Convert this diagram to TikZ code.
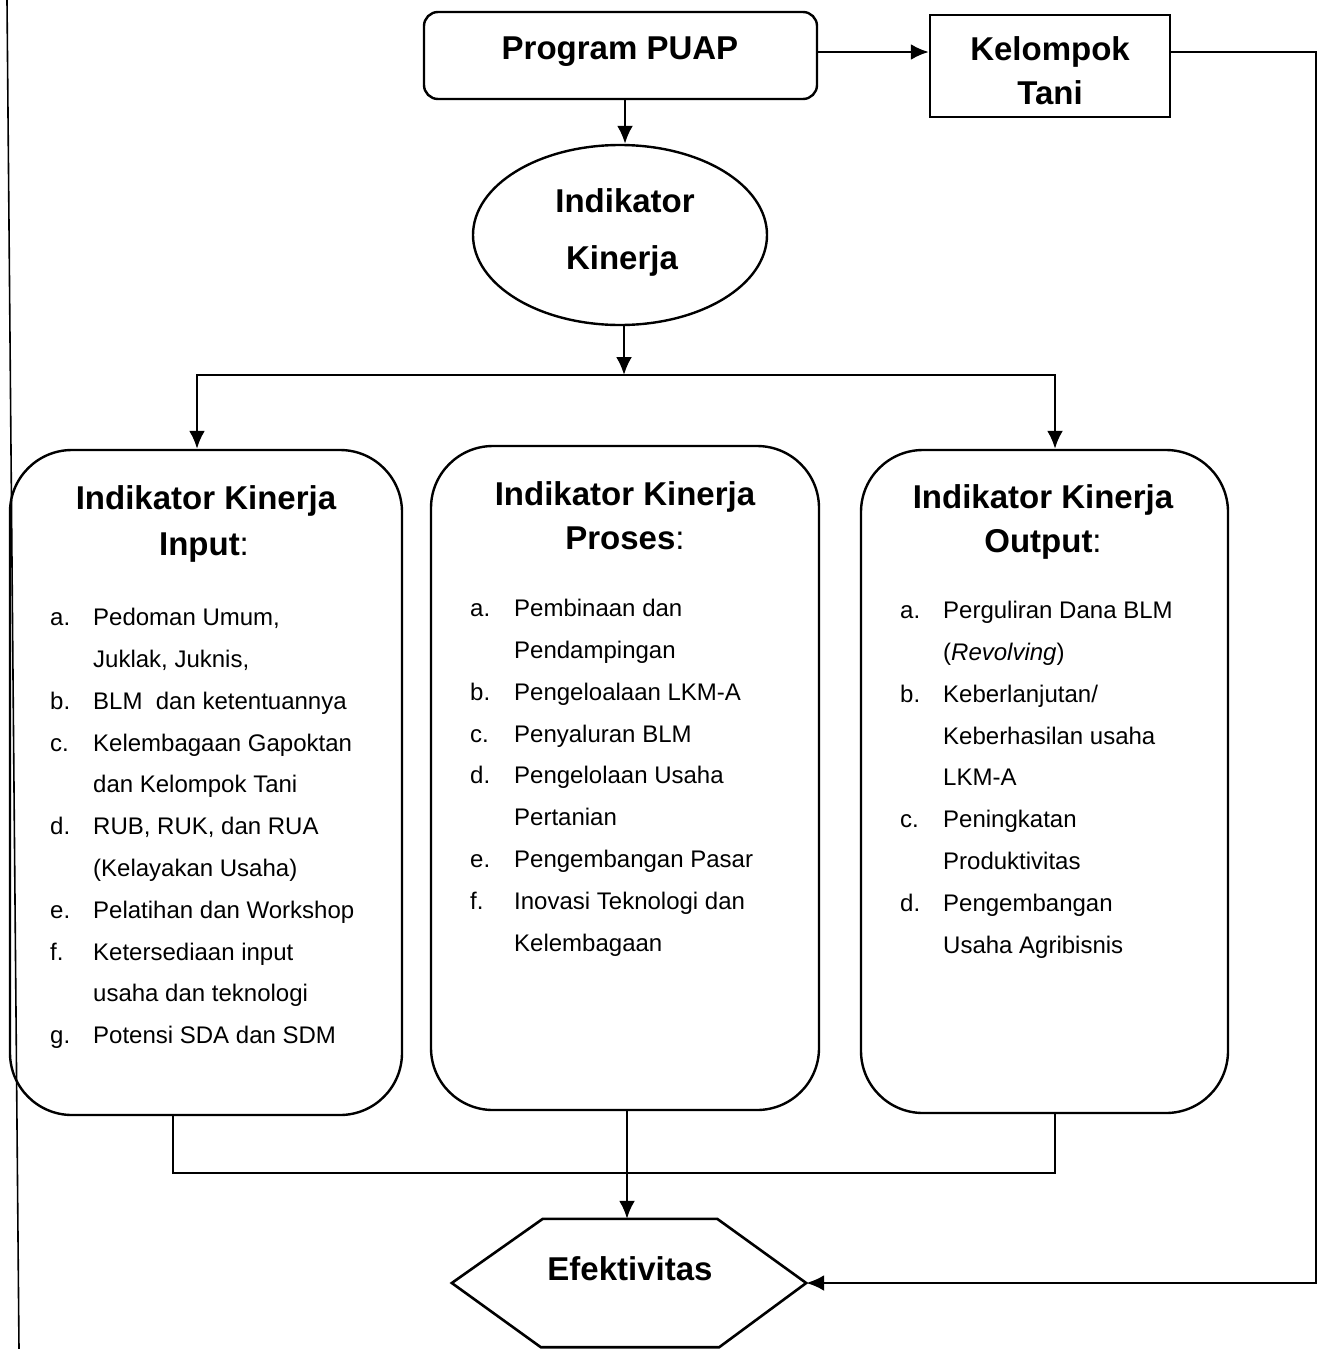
\documentclass[tikz,border=0pt]{standalone}
\usepackage{fontspec}
\setmainfont{Liberation Sans}
\usetikzlibrary{arrows.meta,shapes.geometric,calc}
\tikzset{
  box/.style={draw, line width=2.4pt, inner sep=0},
  bigbox/.style={box, rounded corners=62pt},
  ttl/.style={font=\fontsize{33}{40}\selectfont\bfseries, inner sep=0, anchor=base},
  lst/.style={font=\fontsize{24}{41.8}\selectfont, inner sep=0, anchor=north west, align=left},
  arr/.style={line width=2.6pt, -{Latex[length=18pt,width=16pt]}},
  ln/.style={line width=2.6pt}
}
\begin{document}
\begin{tikzpicture}[x=1pt,y=-1pt]
\useasboundingbox (0,0) rectangle (1325,1349);
% page edge line
\draw[line width=1.6pt] (7,0) -- (19,1349);

% top boxes
\node[box, rounded corners=14pt, minimum width=393pt, minimum height=87pt] (puap) at (620.5,55.5) {};
\node[ttl] (puapt) at (620,59) {Program PUAP};
\node[box, minimum width=240pt, minimum height=102pt] (kt) at (1050,66) {};
\node[ttl] (kt1) at (1050,60) {Kelompok};
\node[ttl] (kt2) at (1050,104) {Tani};

% ellipse
\node[draw, ellipse, line width=2.4pt, minimum width=294pt, minimum height=180pt, inner sep=0] (ik) at (620,235) {};
\node[ttl] (ik1) at (625,212) {Indikator};
\node[ttl] (ik2) at (622,269) {Kinerja};

% three big boxes
\node[bigbox, minimum width=392pt, minimum height=665pt] (input) at (206,782.5) {};
\node[bigbox, minimum width=388pt, minimum height=664pt] (proses) at (625,778) {};
\node[bigbox, minimum width=367pt, minimum height=663pt] (output) at (1044.5,781.5) {};

\node[ttl] (in1) at (206,509) {Indikator Kinerja};
\node[ttl] (in2) at (204,555) {Input{\mdseries:}};
\node[ttl] (pr1) at (625,505) {Indikator Kinerja};
\node[ttl] (pr2) at (625,549) {Proses{\mdseries:}};
\node[ttl] (ou1) at (1043,508) {Indikator Kinerja};
\node[ttl] (ou2) at (1043,552) {Output{\mdseries:}};

\node[lst] (inlist) at (50,596.3) {\begin{tabular}{@{}p{43pt}@{}l@{}}
a. & Pedoman Umum,\\
   & Juklak, Juknis,\\
b. & BLM\ \ dan ketentuannya\\
c. & Kelembagaan Gapoktan\\
   & dan Kelompok Tani\\
d. & RUB, RUK, dan RUA\\
   & (Kelayakan Usaha)\\
e. & Pelatihan dan Workshop\\
f. & Ketersediaan input\\
   & usaha dan teknologi\\
g. & Potensi SDA dan SDM
\end{tabular}};

\node[lst] (prlist) at (470,587.3) {\begin{tabular}{@{}p{44pt}@{}l@{}}
a. & Pembinaan dan\\
   & Pendampingan\\
b. & Pengeloalaan LKM-A\\
c. & Penyaluran BLM\\
d. & Pengelolaan Usaha\\
   & Pertanian\\
e. & Pengembangan Pasar\\
f. & Inovasi Teknologi dan\\
   & Kelembagaan
\end{tabular}};

\node[lst] (oulist) at (900,589.3) {\begin{tabular}{@{}p{43pt}@{}l@{}}
a. & Perguliran Dana BLM\\
   & (\textit{Revolving})\\
b. & Keberlanjutan/\\
   & Keberhasilan usaha\\
   & LKM-A\\
c. & Peningkatan\\
   & Produktivitas\\
d. & Pengembangan\\
   & Usaha Agribisnis
\end{tabular}};

% hexagon
\node[minimum width=354pt, minimum height=128pt, inner sep=0] (efek) at (629,1283) {};
\draw[ln, line join=miter] (efek.west) -- ([xshift=91pt]efek.north west) -- ([xshift=-89pt]efek.north east)
  -- (efek.east) -- ([xshift=-87pt]efek.south east) -- ([xshift=89pt]efek.south west) -- cycle;
\node[ttl] (efekt) at (630,1280) {Efektivitas};

% connectors
\coordinate (split) at (624,375);
\coordinate (join) at (627,1173);
\coordinate (fb) at (1316,52);
\draw[arr] ([yshift=3.5pt]puap.east) -- ([yshift=14pt]kt.west);
\draw[arr] ([xshift=4.5pt]puap.south) -- ([xshift=4.5pt]puap.south |- ik.north);
\draw[arr] ([xshift=4pt]ik.south) -- (split);
\draw[arr] (split) -| ([xshift=-9pt]input.north);
\draw[arr] (split) -| ([xshift=10.5pt]output.north);
\draw[ln] ([xshift=-33pt]input.south) |- (join) -| ([xshift=10.5pt]output.south);
\draw[arr] ([xshift=2pt]proses.south) -- ([xshift=2pt]proses.south |- efek.north);
\draw[arr] ([yshift=14pt]kt.east) -- (fb) |- (efek.east);
\end{tikzpicture}
\end{document}
